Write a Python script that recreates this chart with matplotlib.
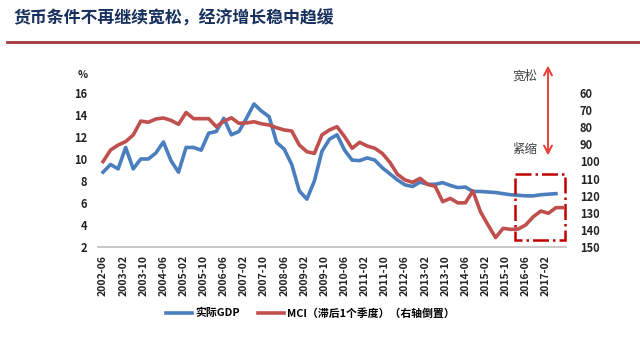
import numpy as np
import matplotlib.pyplot as plt
from matplotlib.lines import Line2D
from matplotlib.patches import Rectangle

plt.rcParams['font.family'] = ['Noto Sans CJK SC', 'DejaVu Sans']

# x轴标签（每8个月）
tick_labels = ['2002-06', '2003-02', '2003-10', '2004-06', '2005-02', '2005-10',
               '2006-06', '2007-02', '2007-10', '2008-06', '2009-02', '2009-10',
               '2010-06', '2011-02', '2011-10', '2012-06', '2013-02', '2013-10',
               '2014-06', '2015-02', '2015-10', '2016-06', '2017-02']

# 实际GDP（季度同比，%），从2002-06开始
gdp = [8.8, 9.5, 9.1, 11.05, 9.1, 10.0, 10.0, 10.55, 11.55, 9.85,
       8.8, 11.05, 11.05, 10.8, 12.35, 12.5, 13.7, 12.2, 12.5, 13.7,
       15.0, 14.35, 13.85, 11.5, 10.9, 9.5, 7.1, 6.35, 8.0, 10.7,
       11.8, 12.2, 10.8, 9.9, 9.85, 10.1, 9.9, 9.2, 8.65, 8.1,
       7.65, 7.5, 7.9, 7.7, 7.7, 7.85, 7.6, 7.4, 7.45, 7.05,
       7.05, 7.0, 6.95, 6.85, 6.75, 6.7, 6.65, 6.65, 6.75, 6.8, 6.85]

# MCI（滞后1个季度，右轴倒置）
mci = [100.1, 93.3, 90.4, 88.4, 84.5, 76.4, 77.1, 75.2, 74.6, 76.0,
       78.3, 71.4, 75.0, 75.0, 75.0, 79.7, 76.5, 74.5, 77.7, 77.5,
       76.8, 78.0, 78.7, 80.3, 81.6, 82.2, 90.4, 94.3, 95.3, 84.5,
       81.6, 79.7, 85.5, 92.3, 88.8, 91.0, 92.3, 95.3, 100.5, 107.5,
       110.8, 112.2, 109.9, 113.4, 114.5, 123.5, 121.6, 124.2, 124.2, 117.3,
       129.4, 137.1, 144.5, 139.1, 139.7, 139.5, 137.1, 132.3, 129.0, 130.3,
       127.0, 127.0]

W, H = 640, 346
fig = plt.figure(figsize=(6.4, 3.46), dpi=100)
fig.patch.set_facecolor('white')

# 标题和下划线
fig.text(13 / W, 1 - 19 / H, '货币条件不再继续宽松，经济增长稳中趋缓',
         fontsize=12.2, fontweight='bold', color='#17305e', va='center', ha='left')
fig.add_artist(Line2D([7 / W, 1.0], [1 - 42 / H] * 2, color='#a23a3a', lw=2))

ax = fig.add_axes([98 / W, 99 / H, 468 / W, 154 / H])
ax2 = ax.twinx()

x_gdp = np.arange(len(gdp)) * 3
x_mci = np.arange(len(mci)) * 3

l1, = ax.plot(x_gdp, gdp, color='#4a7ebf', lw=2.6, solid_joinstyle='round')
l2, = ax2.plot(x_mci, mci, color='#c0504d', lw=2.6, solid_joinstyle='round')

ax.set_xlim(-2, 184)
ax.set_ylim(2, 16)
ax.set_yticks(np.arange(2, 17, 2))
ax2.set_ylim(150, 60)
ax2.set_yticks(np.arange(60, 151, 10))

ax.set_xticks(np.arange(len(tick_labels)) * 8)
ax.set_xticklabels(tick_labels, rotation=90, fontsize=7.5, fontweight='bold', color='#222222')

for a in (ax, ax2):
    for s in a.spines.values():
        s.set_visible(False)
    a.tick_params(length=0)
ax.spines['bottom'].set_visible(True)
ax.spines['bottom'].set_color('#bfbfbf')
ax.spines['bottom'].set_linewidth(1.2)
ax.tick_params(axis='x', pad=6)
ax.tick_params(axis='y', pad=8, labelsize=8)
ax2.tick_params(axis='y', pad=10, labelsize=8)
for lab in ax.get_yticklabels() + ax2.get_yticklabels():
    lab.set_fontweight('bold')
    lab.set_color('#222222')

fig.text(83 / W, 1 - 75 / H, '%', fontsize=7.5, fontweight='bold', color='#222222',
         ha='center', va='center')

# 虚线框
rect = Rectangle((163.6, 107.3), 20.2, 38.6, fill=False, edgecolor='#c00000',
                 lw=1.8, linestyle='-.', clip_on=False)
ax2.add_patch(rect)

# 宽松/紧缩 箭头
fig.add_artist(plt.annotate('', xy=(548 / W, 1 - 63 / H), xytext=(548 / W, 1 - 158 / H),
                            xycoords='figure fraction', textcoords='figure fraction',
                            arrowprops=dict(arrowstyle='<->', color='#e8413c', lw=1.2,
                                            mutation_scale=14)))
fig.text(525 / W, 1 - 76 / H, '宽松', fontsize=9, color='#404040', ha='center', va='center')
fig.text(525 / W, 1 - 149 / H, '紧缩', fontsize=9, color='#404040', ha='center', va='center')

fig.legend([l1, l2], ['实际GDP', 'MCI（滞后1个季度）（右轴倒置）'],
           loc='center', bbox_to_anchor=(0.485, 1 - 313 / H), ncol=2, frameon=False,
           handlelength=2.4, columnspacing=1.6, handletextpad=0.3,
           prop={'size': 7.8, 'weight': 'bold'})

fig.savefig('out.png', dpi=100, facecolor='white')
